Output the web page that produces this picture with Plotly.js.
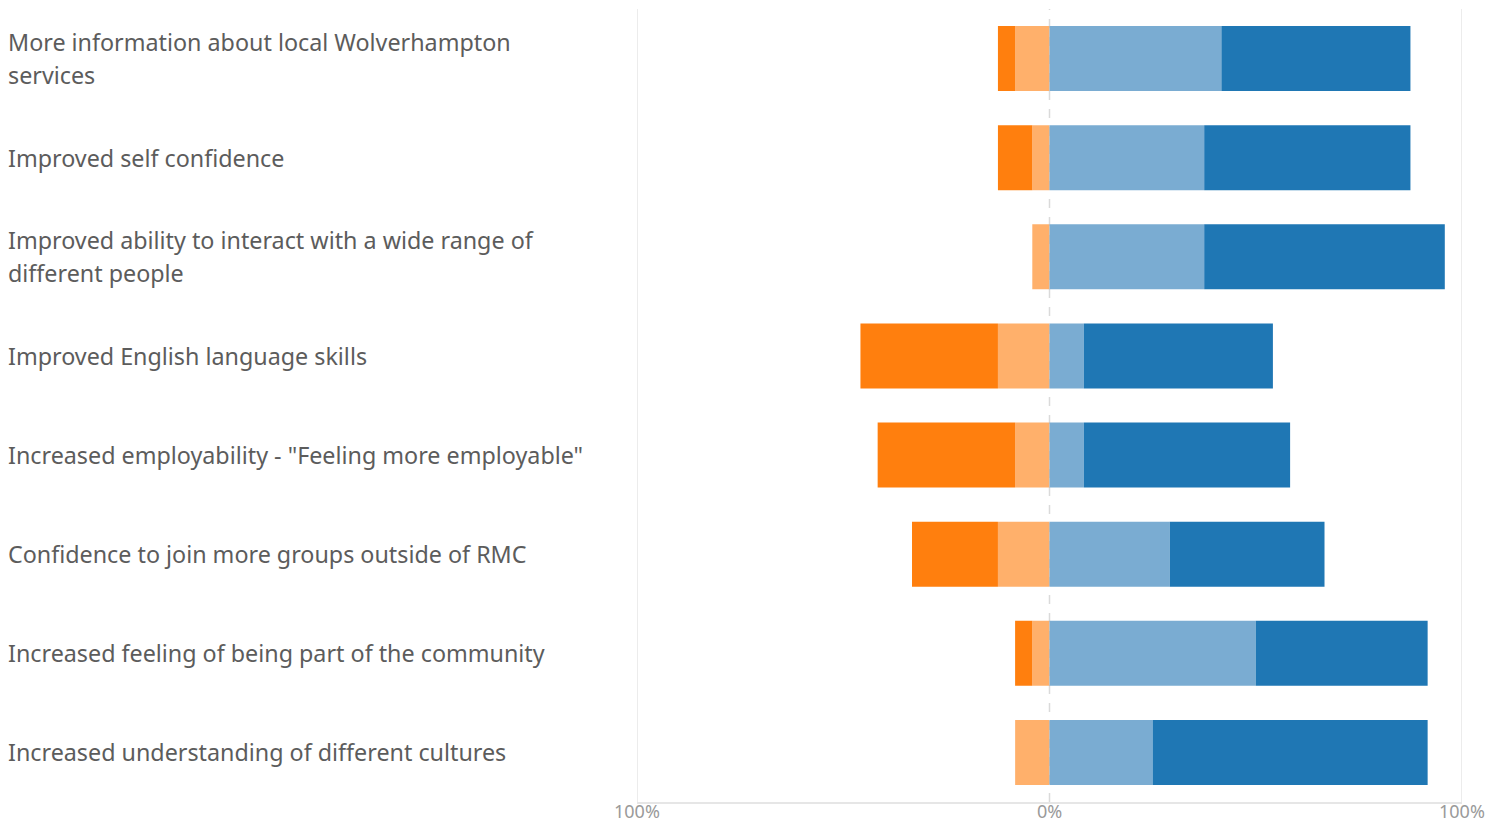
<!DOCTYPE html>
<html>
<head>
<meta charset="utf-8">
<script src="https://cdn.plot.ly/plotly-3.0.1.min.js"></script>
<style>html,body{margin:0;padding:0;background:#fff;}#chart{width:1502px;height:822px;}</style>
</head>
<body>
<div id="chart"></div>
<script>
const categories = [
  "More information about local Wolverhampton<br>services",
  "Improved self confidence",
  "Improved ability to interact with a wide range of<br>different people",
  "Improved English language skills",
  "Increased employability - \"Feeling more employable\"",
  "Confidence to join more groups outside of RMC",
  "Increased feeling of being part of the community",
  "Increased understanding of different cultures"
];
// percentages (negative side drawn leftwards)
const stronglyDisagree = [4.17, 8.33, 0, 33.33, 33.33, 20.83, 4.17, 0];
const disagree = [8.33, 4.17, 4.17, 12.5, 8.33, 12.5, 4.17, 8.33];
const agree = [41.67, 37.5, 37.5, 8.33, 8.33, 29.17, 50.0, 25.0];
const stronglyAgree = [45.83, 50.0, 58.33, 45.83, 50.0, 37.5, 41.67, 66.67];
const tickVals = [-100, 0, 100];
const tickText = ["100%", "0%", "100%"];

const FONT = "Noto Sans, Open Sans, sans-serif";
const neg = a => a.map(v => -v);
const traces = [
  {name: "Disagree", x: neg(disagree), y: categories, color: "#FFB06B"},
  {name: "Strongly disagree", x: neg(stronglyDisagree), y: categories, color: "#FF7F0E"},
  {name: "Agree", x: agree, y: categories, color: "#7AACD2"},
  {name: "Strongly agree", x: stronglyAgree, y: categories, color: "#1F77B4"}
].map(t => ({
  type: "bar", orientation: "h", name: t.name, x: t.x, y: t.y,
  marker: {color: t.color, line: {width: 0}}, hoverinfo: "x+y+name"
}));

const annotations = [];
categories.forEach(c => {
  const lines = c.split("<br>");
  const n = lines.length;
  lines.forEach((ln, i) => {
    annotations.push({
      xref: "paper", yref: "y", x: 0, y: c, xanchor: "left", yanchor: "middle",
      xshift: -631, yshift: ((n - 1) / 2 - i) * 33, text: ln, showarrow: false,
      font: {family: FONT, size: 23.3, color: "#5C5C5C"}
    });
  });
});
tickVals.forEach((v, i) => {
  annotations.push({
    xref: "x", yref: "paper", x: v, y: 0, xanchor: "center", yanchor: "middle",
    yshift: -9, text: tickText[i], showarrow: false,
    font: {family: FONT, size: 18, color: "#9A9A9A"}
  });
});

const shapes = tickVals.map(v => ({
  type: "line", xref: "x", yref: "paper", x0: v, x1: v, y0: 0, y1: 1, layer: "below",
  line: {color: v === 0 ? "#DADADA" : "#E6E6E6", width: 1.5, dash: v === 0 ? "dash" : "solid"}
}));

const layout = {
  width: 1502, height: 822,
  margin: {l: 637, r: 40, t: 9, b: 20},
  barmode: "relative", bargap: 0.345,
  showlegend: false,
  paper_bgcolor: "#fff", plot_bgcolor: "rgba(0,0,0,0)",
  xaxis: {
    range: [-100, 100], showticklabels: false,
    showgrid: false, zeroline: false, showline: true, linecolor: "#E6E6E6", linewidth: 1.5,
    ticks: "", fixedrange: true
  },
  yaxis: {
    categoryorder: "array", categoryarray: categories, autorange: "reversed",
    showticklabels: false, showgrid: false, zeroline: false, ticks: "", fixedrange: true
  },
  shapes: shapes,
  annotations: annotations
};
Plotly.newPlot("chart", traces, layout, {displayModeBar: false, staticPlot: true});
</script>
</body>
</html>
